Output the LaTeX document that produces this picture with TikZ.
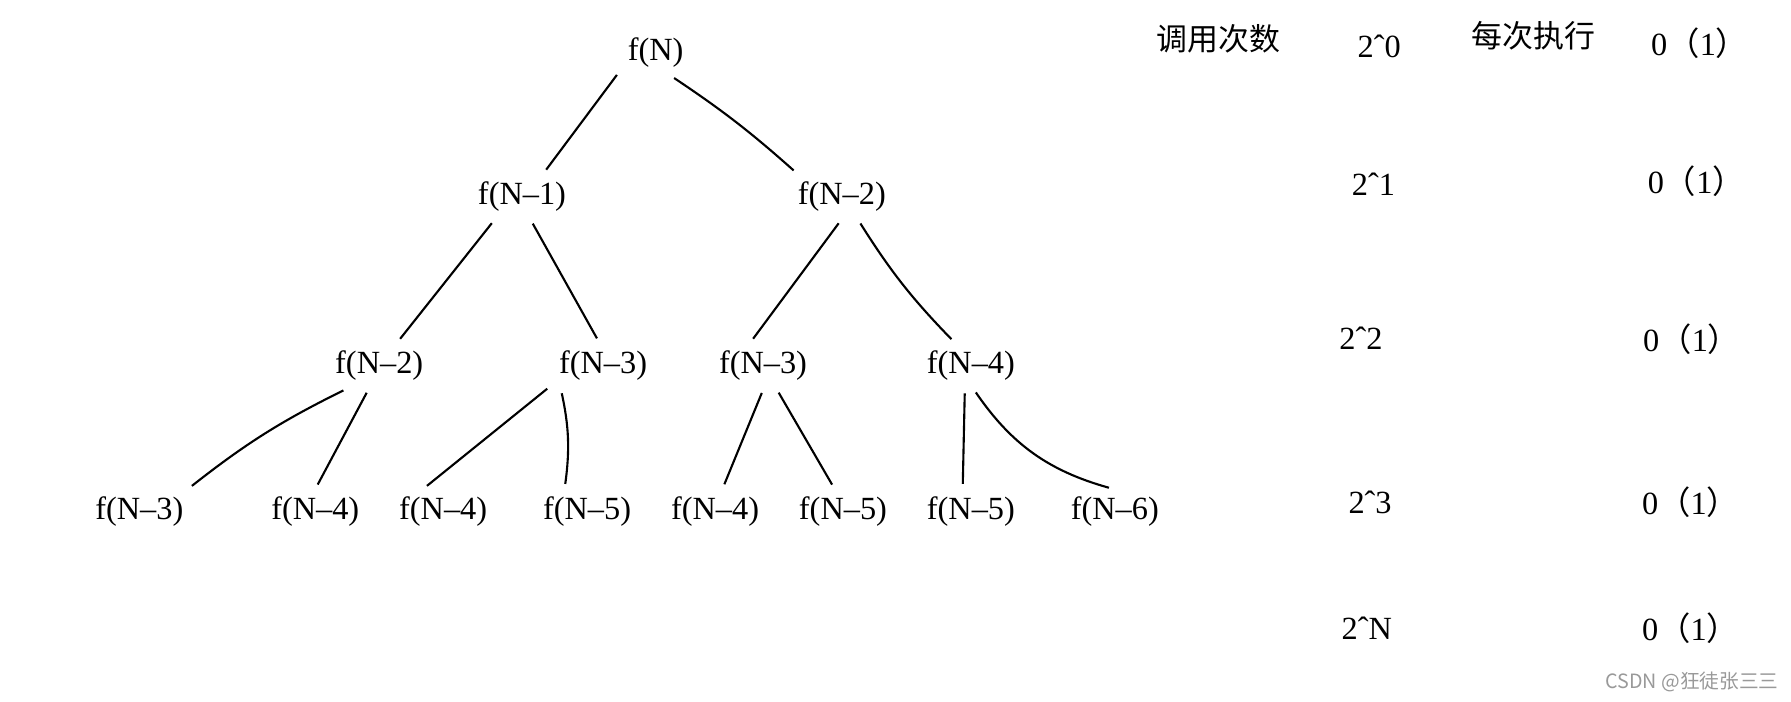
\documentclass[tikz,border=0pt]{standalone}
\usepackage{fontspec}
\setmainfont{Liberation Serif}
\newfontfamily\cjk{Noto Sans CJK SC}

\begin{document}
\begin{tikzpicture}[x=0.1142mm,y=-0.1142mm,font=\fontsize{9.2}{11}\selectfont,
  call/.style={inner sep=2pt},
  link/.style={line width=0.6pt,shorten <=1.5pt,shorten >=1.5pt},
  head/.style={anchor=west,inner sep=0pt,font=\fontsize{8.8}{10}\selectfont\cjk},
  cnt/.style={anchor=west,inner sep=0pt}]
  \useasboundingbox (0,0) rectangle (1568,614);
  % call tree
  \node[call] (fN) at (574,46) {f(N)};
  \node[call] (fNa) at (457,172) {f(N--1)}; \node[call] (fNb) at (737,172) {f(N--2)};
  \node[call] (fNaa) at (332,320) {f(N--2)}; \node[call] (fNab) at (528,320) {f(N--3)};
  \node[call] (fNba) at (668,320) {f(N--3)}; \node[call] (fNbb) at (850,320) {f(N--4)};
  \node[call] (fNaaa) at (122,448) {f(N--3)}; \node[call] (fNaab) at (276,448) {f(N--4)};
  \node[call] (fNaba) at (388,448) {f(N--4)}; \node[call] (fNabb) at (514,448) {f(N--5)};
  \node[call] (fNbaa) at (626,448) {f(N--4)}; \node[call] (fNbab) at (738,448) {f(N--5)};
  \node[call] (fNbba) at (850,448) {f(N--5)}; \node[call] (fNbbb) at (976,448) {f(N--6)};
  \draw[link] (fN.207) -- (fNa.47); \draw[link] (fN.302) to[bend left=4] (fNb.153);
  \draw[link] (fNa.220) -- (fNaa.52); \draw[link] (fNa.290) -- (fNab.99);
  \draw[link] (fNb.270) -- (fNba.120); \draw[link] (fNb.305) to[bend right=6] (fNbb.125);
  \draw[link] (fNaa.216) to[bend right=6] (fNaaa.25); \draw[link] (fNaa.246) -- (fNaab.90);
  \draw[link] (fNab.201) -- (fNaba.132); \draw[link] (fNab.208) to[bend left=10] (fNabb.135);
  \draw[link] (fNba.272) -- (fNbaa.72); \draw[link] (fNba.300) -- (fNbab.110);
  \draw[link] (fNbb.255) -- (fNbba.110); \draw[link] (fNbb.275) to[bend right=20] (fNbbb.92);
  % counts
  \node[head] (calls) at (1012,34) {调用次数}; \node[head] (cost) at (1288,31) {每次执行};
  \node[cnt] (c0) at (1188,41) {2ˆ0}; \node[cnt] (t0) at (1445,38) {0{\cjk （}1{\cjk ）}};
  \node[cnt] (c1) at (1183,161) {2ˆ1}; \node[cnt] (t1) at (1442,159) {0{\cjk （}1{\cjk ）}};
  \node[cnt] (c2) at (1172,296) {2ˆ2}; \node[cnt] (t2) at (1438,297) {0{\cjk （}1{\cjk ）}};
  \node[cnt] (c3) at (1180,440) {2ˆ3}; \node[cnt] (t3) at (1437,440) {0{\cjk （}1{\cjk ）}};
  \node[cnt] (cN) at (1174,550) {2ˆN}; \node[cnt] (tN) at (1437,550) {0{\cjk （}1{\cjk ）}};
  \node[cnt,text=black!40,font=\fontsize{5.6}{7}\selectfont\cjk] (mark) at (1405,597) {CSDN @狂徒张三三};
\end{tikzpicture}
\end{document}
